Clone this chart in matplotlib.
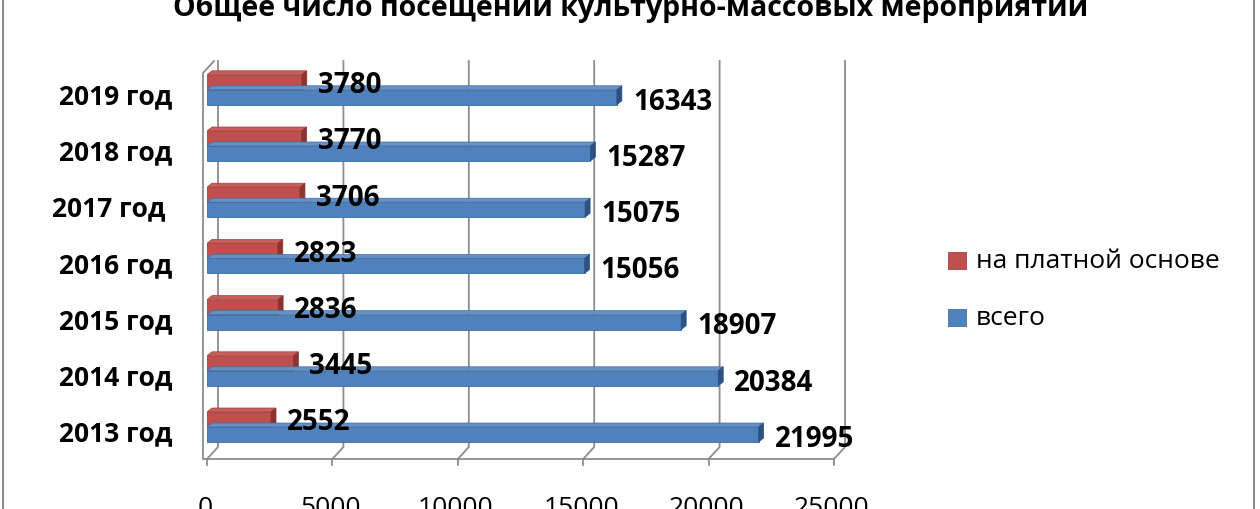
import matplotlib
matplotlib.use("Agg")
import matplotlib.pyplot as plt
from matplotlib.patches import Rectangle, Polygon

plt.rcParams['font.family'] = ['Open Sans', 'DejaVu Sans']

# ---- data ----
categories = ["2013 год", "2014 год", "2015 год", "2016 год", "2017 год ", "2018 год", "2019 год"]
paid = [2552, 3445, 2836, 2823, 3706, 3770, 3780]
total = [21995, 20384, 18907, 15056, 15075, 15287, 16343]
xticks = [0, 5000, 10000, 15000, 20000, 25000]
title = "Общее число посещений культурно-массовых мероприятий"
legend_labels = ["на платной основе", "всего"]

W, H = 1260, 510
fig = plt.figure(figsize=(W / 100, H / 100), dpi=100)
fig.patch.set_facecolor("white")

# front-plane geometry (pixels)
x0_px, x1_px = 207, 834
floor_px, top_px = 460, 62
ppu_y = 56.2            # pixels per category
cat0_px = 428           # pixel row of y=0
xmax = 25000
PX_X = xmax / (x1_px - x0_px)
PX_Y = 1 / ppu_y
ylo = -(floor_px - cat0_px) / ppu_y
yhi = (cat0_px - top_px) / ppu_y

ax = fig.add_axes([x0_px / W, (H - floor_px) / H, (x1_px - x0_px) / W, (floor_px - top_px) / H])
ax.set_xlim(0, xmax)
ax.set_ylim(ylo, yhi)
ax.axis("off")

grid_c = "#8c8c8c"
back_dx, back_dy = 11 * PX_X, 12 * PX_Y

# gridlines / walls
for v in xticks:
    ax.plot([v, v + back_dx, v + back_dx], [ylo, ylo + back_dy, yhi],
            color=grid_c, lw=1.3, clip_on=False, zorder=1)
    ax.plot([v, v], [ylo, ylo - 6 * PX_Y], color=grid_c, lw=1.3, clip_on=False, zorder=1)
ax.plot([-3 * PX_X, xmax], [ylo, ylo], color=grid_c, lw=1.3, clip_on=False, zorder=1)
# left wall
lw_x = -4 * PX_X
ax.plot([lw_x, lw_x, lw_x + back_dx], [ylo, yhi - back_dy, yhi],
        color=grid_c, lw=1.3, clip_on=False, zorder=1)

# 3D bars
h = 15 * PX_Y
dx, dy = 5 * PX_X, 4 * PX_Y
red = dict(front="#C0504D", top="#C85E5B", side="#8B3330", edge="#A0403D")
blue = dict(front="#4F81BD", top="#6591C6", side="#2C5282", edge="#3F6EA6")


def bar3d(y0, val, c, z):
    ax.add_patch(Rectangle((0, y0), val, h, facecolor=c["front"], edgecolor=c["edge"], lw=0.6, zorder=z))
    ax.add_patch(Polygon([(0, y0 + h), (val, y0 + h), (val + dx, y0 + h + dy), (dx, y0 + h + dy)],
                         closed=True, facecolor=c["top"], edgecolor=c["edge"], lw=0.5, zorder=z))
    ax.add_patch(Polygon([(val, y0), (val, y0 + h), (val + dx, y0 + h + dy), (val + dx, y0 + dy)],
                         closed=True, facecolor=c["side"], edgecolor=c["side"], lw=0.5, zorder=z))


cat_font = dict(fontsize=19, fontweight="bold", color="black")
val_font = dict(fontsize=20, fontweight="bold", color="black")
for i, (p, t) in enumerate(zip(paid, total)):
    bar3d(i, p, red, 2 + i * 0.01)
    bar3d(i - h, t, blue, 3 + i * 0.01)
    ax.text(p + 16 * PX_X, i + 0.09, f"{p}", ha="left", va="center", zorder=10, **val_font)
    ax.text(t + 16 * PX_X, i - 0.2, f"{t}", ha="left", va="center", zorder=10, **val_font)
    ax.text(-35 * PX_X, i - 0.107, categories[i], ha="right", va="center", zorder=10, **cat_font)

for v in xticks:
    ax.text(v - 2 * PX_X, ylo - 36 * PX_Y, f"{v}", ha="center", va="top", fontsize=19,
            color="black", clip_on=False)

# title
fig.text(631 / W, (H - 16) / H, title, ha="center", va="baseline", fontsize=20.5, fontweight="bold")

# legend
for k, (lab, c) in enumerate(zip(legend_labels, [red, blue])):
    yc = [261.5, 318.5][k]
    fig.patches.append(Rectangle((948 / W, (H - yc - 8.5) / H), 18 / W, 17 / H, transform=fig.transFigure,
                                 facecolor=c["front"], edgecolor=c["edge"], lw=0.6))
    fig.text(976 / W, (H - yc) / H, lab, ha="left", va="center", fontsize=19, color="black")

# outer border
for xb in [3, 1254]:
    fig.add_artist(plt.Line2D([xb / W, xb / W], [0, 1], transform=fig.transFigure, color="#8c8c8c", lw=1.5))

fig.savefig("out.png", dpi=100)
